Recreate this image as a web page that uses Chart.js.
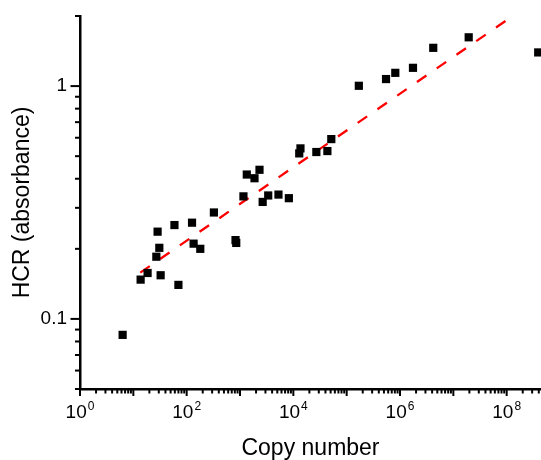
<!DOCTYPE html>
<html>
<head>
    <title>HCR vs copy number</title>
    <style>
        body { margin: 0; background: #fff; }
        #wrap { width: 541px; height: 460px; }
    </style>
</head>
<body>
    <div id="wrap"><canvas id="hcrChart"></canvas></div>

    <script src="https://cdn.jsdelivr.net/npm/chart.js@4.4.0/dist/chart.umd.min.js"></script>
    <script>
        const copyNumber = [6.3, 13.7, 18.5, 27, 30.7, 28.5, 32.5, 59, 70, 126, 135, 180, 324, 824, 850,
            1160, 1340, 1870, 2320, 2660, 3380, 5260, 8240, 13600, 12900, 27000, 43500, 51500,
            1.69e5, 5.47e5, 8.16e5, 1.75e6, 4.2e6, 1.94e7, 3.9e8];
        const hcr = [0.0854, 0.1475, 0.1575, 0.185, 0.202, 0.237, 0.154, 0.253, 0.140, 0.259, 0.2105, 0.200,
            0.2865, 0.218, 0.212, 0.336, 0.417, 0.402, 0.437, 0.318, 0.339, 0.342, 0.330, 0.540, 0.514,
            0.521, 0.526, 0.592, 1.003, 1.072, 1.140, 1.198, 1.46, 1.62, 1.395];

        // red dashed fit line end points
        const fitX = [13.5, 1.3e8];
        const fitY = [0.158, 2.0];

        const xLabelExp = [0, 2, 4, 6, 8];
        const yLabels = [0.1, 1];

        const fontFamily = "'Liberation Sans', Arial, sans-serif";

        // values 1..9 x 10^n inside the axis range
        function logSteps(min, max) {
            const out = [];
            const lo = Math.floor(Math.log10(min));
            const hi = Math.ceil(Math.log10(max));
            for (let e = lo; e <= hi; e++) {
                for (let m = 1; m <= 9; m++) {
                    const v = m * Math.pow(10, e);
                    if (v >= min * 0.999 && v <= max * 1.001) {
                        out.push({ value: v, major: m === 1 });
                    }
                }
            }
            return out;
        }

        // tick marks and superscript x labels
        const axisDecor = {
            id: 'axisDecor',
            afterDraw(chart) {
                const ctx = chart.ctx;
                const xs = chart.scales.x;
                const ys = chart.scales.y;
                ctx.save();
                ctx.strokeStyle = '#000';
                ctx.lineWidth = 2;
                logSteps(xs.min, xs.max).forEach(t => {
                    const px = xs.getPixelForValue(t.value);
                    const len = t.major ? 7 : 4.5;
                    ctx.beginPath();
                    ctx.moveTo(px, xs.top);
                    ctx.lineTo(px, xs.top + len);
                    ctx.stroke();
                });
                logSteps(ys.min, ys.max).forEach(t => {
                    const py = ys.getPixelForValue(t.value);
                    const len = t.major ? 9.5 : 5;
                    ctx.beginPath();
                    ctx.moveTo(ys.right, py);
                    ctx.lineTo(ys.right - len, py);
                    ctx.stroke();
                });

                ctx.fillStyle = '#000';
                ctx.textBaseline = 'alphabetic';
                xLabelExp.forEach(e => {
                    const px = xs.getPixelForValue(Math.pow(10, e));
                    ctx.font = '19px ' + fontFamily;
                    const wBase = ctx.measureText('10').width;
                    ctx.font = '12px ' + fontFamily;
                    const wExp = ctx.measureText(String(e)).width;
                    const x0 = px - (wBase + wExp + 1) / 2;
                    ctx.font = '19px ' + fontFamily;
                    ctx.textAlign = 'left';
                    ctx.fillText('10', x0, xs.top + 29);
                    ctx.font = '12px ' + fontFamily;
                    ctx.fillText(String(e), x0 + wBase + 1, xs.top + 21);
                });
                ctx.restore();
            }
        };

        const ctx = document.getElementById('hcrChart').getContext('2d');
        new Chart(ctx, {
            type: 'scatter',
            data: {
                datasets: [{
                    label: 'HCR',
                    data: copyNumber.map((c, i) => ({ x: c, y: hcr[i] })),
                    pointStyle: 'rect',
                    pointRadius: 5.8,
                    pointHoverRadius: 5.8,
                    pointBorderWidth: 0,
                    backgroundColor: '#000',
                    borderColor: '#000',
                    clip: false
                }, {
                    label: 'Fit',
                    data: fitX.map((c, i) => ({ x: c, y: fitY[i] })),
                    showLine: true,
                    pointRadius: 0,
                    borderColor: '#ff0000',
                    borderWidth: 2.3,
                    borderDash: [11.5, 12.5]
                }]
            },
            options: {
                responsive: true,
                maintainAspectRatio: false,
                animation: false,
                layout: { autoPadding: false, padding: { top: 16, right: 0, left: 0, bottom: 0 } },
                plugins: {
                    legend: { display: false },
                    tooltip: { enabled: false }
                },
                scales: {
                    x: {
                        type: 'logarithmic',
                        min: 1,
                        max: 4.4e8,
                        afterFit: s => { s.height = 71; s.paddingLeft = 0; s.paddingRight = 0; },
                        grid: { display: false, drawTicks: false },
                        border: { display: true, color: '#000', width: 2.5 },
                        ticks: { callback: () => null, autoSkip: false, maxRotation: 0 },
                        title: {
                            display: true,
                            text: 'Copy number',
                            color: '#000',
                            font: { family: fontFamily, size: 23, lineHeight: 1 },
                            padding: { top: 0, bottom: 0 }
                        }
                    },
                    y: {
                        type: 'logarithmic',
                        min: 0.05,
                        max: 2,
                        afterBuildTicks: s => { s.ticks = yLabels.map(v => ({ value: v, major: true })); },
                        afterFit: s => { s.width = 80; s.paddingTop = 0; s.paddingBottom = 0; },
                        grid: { display: false, drawTicks: false },
                        border: { display: true, color: '#000', width: 2.5 },
                        ticks: {
                            autoSkip: false,
                            padding: 13,
                            color: '#000',
                            font: { family: fontFamily, size: 19 },
                            callback: v => String(v)
                        },
                        title: {
                            display: true,
                            text: 'HCR (absorbance)',
                            color: '#000',
                            font: { family: fontFamily, size: 23, lineHeight: 1.2 },
                            padding: { top: 9, bottom: 0 }
                        }
                    }
                }
            },
            plugins: [axisDecor]
        });
    </script>
</body>
</html>
